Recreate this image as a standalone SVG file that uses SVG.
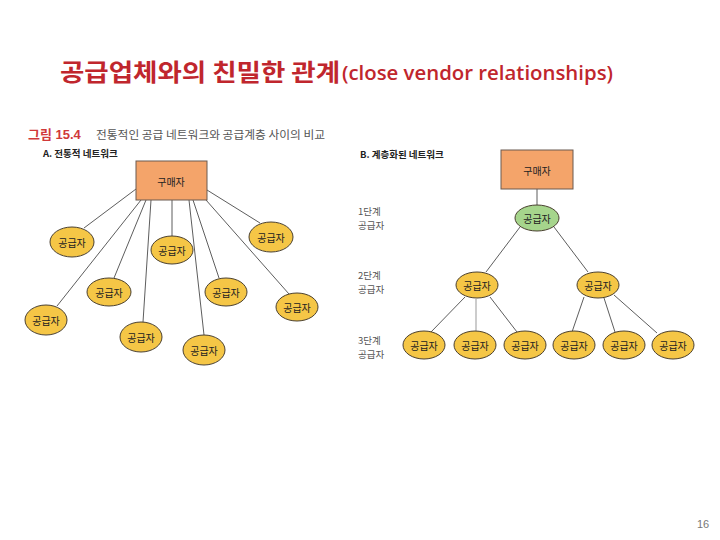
<svg xmlns="http://www.w3.org/2000/svg" width="720" height="540" viewBox="0 0 720 540">
<style>
.title{font-family:"Noto Sans CJK KR","Noto Sans",sans-serif;font-weight:bold;fill:#c0262d}
.en{font-family:"Open Sans","Liberation Sans",sans-serif;font-weight:600;fill:#c0262d}
.cap{font-family:"Noto Sans CJK KR",sans-serif;fill:#555;font-size:11px}
.capn{font-family:"Liberation Sans","Noto Sans CJK KR",sans-serif;fill:#d0393a;font-size:13px;font-weight:bold}
.sub{font-family:"Noto Sans CJK KR",sans-serif;fill:#222;font-size:9.5px;font-weight:bold}
.tier{font-family:"Noto Sans CJK KR",sans-serif;fill:#555;font-size:9.5px}
.lbl{font-family:"Noto Sans CJK KR",sans-serif;fill:#222;font-size:10px;text-anchor:middle;dominant-baseline:central}
.buyer{fill:#f4a46a;stroke:#6b5a50;stroke-width:1}
.sup{fill:#f5c646;stroke:#4a4030;stroke-width:1}
.sup1{fill:#a6d58c;stroke:#4a4030;stroke-width:1}
.ln{stroke:#333;stroke-width:0.8;fill:none}
.ln2{stroke:#aaa;stroke-width:1.2;fill:none}
.pg{font-family:"Liberation Sans",sans-serif;fill:#777;font-size:11px}
</style>
<rect width="720" height="540" fill="#fff"/>
<text class="title" x="60" y="81" font-size="24" textLength="280" lengthAdjust="spacingAndGlyphs">공급업체와의 친밀한 관계</text>
<text class="en" x="342" y="80" font-size="20" textLength="271" lengthAdjust="spacingAndGlyphs">(close vendor relationships)</text>
<text class="capn" x="28" y="139">그림 15.4</text>
<text class="cap" x="96" y="139" textLength="229" lengthAdjust="spacingAndGlyphs">전통적인 공급 네트워크와 공급계층 사이의 비교</text>
<text class="sub" x="43" y="157">A. 전통적 네트워크</text>
<text class="sub" x="360" y="158">B. 계층화된 네트워크</text>
<g id="tiers">
<text class="tier" x="358" y="215">1단계</text>
<text class="tier" x="358" y="229">공급자</text>
<text class="tier" x="358" y="279">2단계</text>
<text class="tier" x="358" y="293">공급자</text>
<text class="tier" x="358" y="344">3단계</text>
<text class="tier" x="358" y="358">공급자</text>
</g>
<g id="connectors">
<line class="ln" x1="136" y1="189" x2="84" y2="228"/>
<line class="ln" x1="141" y1="200" x2="57" y2="306"/>
<line class="ln" x1="146" y1="200" x2="114" y2="278"/>
<line class="ln" x1="151" y1="200" x2="143" y2="322"/>
<line class="ln" x1="172" y1="200" x2="172" y2="236"/>
<line class="ln" x1="189" y1="200" x2="204" y2="335"/>
<line class="ln" x1="193" y1="200" x2="219" y2="278"/>
<line class="ln" x1="206" y1="200" x2="289" y2="294"/>
<line class="ln" x1="207" y1="190" x2="260" y2="223"/>
<line class="ln" x1="537" y1="189" x2="537" y2="205"/>
<line class="ln" x1="520" y1="227" x2="486" y2="272"/>
<line class="ln" x1="554" y1="227" x2="588" y2="272"/>
<line class="ln" x1="465" y1="297" x2="431" y2="332"/>
<line class="ln2" x1="476" y1="299" x2="476" y2="331"/>
<line class="ln" x1="490" y1="297" x2="517" y2="332"/>
<line class="ln" x1="584" y1="297" x2="572" y2="332"/>
<line class="ln" x1="604" y1="298" x2="615" y2="332"/>
<line class="ln" x1="614" y1="295" x2="657" y2="333"/>
</g>
<g id="buyerA"><rect class="buyer" x="136" y="161" width="71" height="39"/><text class="lbl" x="171" y="181">구매자</text></g>
<g id="a1"><ellipse class="sup" cx="72" cy="242" rx="22" ry="15"/><text class="lbl" x="72" y="242">공급자</text></g>
<g id="a2"><ellipse class="sup" cx="172" cy="250" rx="21" ry="14"/><text class="lbl" x="172" y="250">공급자</text></g>
<g id="a3"><ellipse class="sup" cx="271" cy="237" rx="22" ry="15"/><text class="lbl" x="271" y="237">공급자</text></g>
<g id="a4"><ellipse class="sup" cx="109" cy="292" rx="22" ry="14"/><text class="lbl" x="109" y="292">공급자</text></g>
<g id="a5"><ellipse class="sup" cx="226" cy="292" rx="21" ry="14"/><text class="lbl" x="226" y="292">공급자</text></g>
<g id="a6"><ellipse class="sup" cx="297" cy="307" rx="21" ry="14"/><text class="lbl" x="297" y="307">공급자</text></g>
<g id="a7"><ellipse class="sup" cx="46" cy="320" rx="21" ry="15"/><text class="lbl" x="46" y="320">공급자</text></g>
<g id="a8"><ellipse class="sup" cx="141" cy="337" rx="21" ry="15"/><text class="lbl" x="141" y="337">공급자</text></g>
<g id="a9"><ellipse class="sup" cx="204" cy="350" rx="21" ry="15"/><text class="lbl" x="204" y="350">공급자</text></g>
<g id="buyerB"><rect class="buyer" x="501" y="150" width="72" height="39"/><text class="lbl" x="537" y="170">구매자</text></g>
<g id="b1"><ellipse class="sup1" cx="537" cy="218" rx="22" ry="13"/><text class="lbl" x="537" y="218">공급자</text></g>
<g id="b2l"><ellipse class="sup" cx="477" cy="285" rx="21" ry="13"/><text class="lbl" x="477" y="285">공급자</text></g>
<g id="b2r"><ellipse class="sup" cx="598" cy="285" rx="21" ry="13"/><text class="lbl" x="598" y="285">공급자</text></g>
<g id="b31"><ellipse class="sup" cx="424" cy="345" rx="21" ry="14"/><text class="lbl" x="424" y="345">공급자</text></g>
<g id="b32"><ellipse class="sup" cx="475" cy="345" rx="21" ry="14"/><text class="lbl" x="475" y="345">공급자</text></g>
<g id="b33"><ellipse class="sup" cx="525" cy="345" rx="21" ry="14"/><text class="lbl" x="525" y="345">공급자</text></g>
<g id="b34"><ellipse class="sup" cx="574" cy="345" rx="21" ry="14"/><text class="lbl" x="574" y="345">공급자</text></g>
<g id="b35"><ellipse class="sup" cx="624" cy="345" rx="21" ry="14"/><text class="lbl" x="624" y="345">공급자</text></g>
<g id="b36"><ellipse class="sup" cx="673" cy="345" rx="21" ry="14"/><text class="lbl" x="673" y="345">공급자</text></g>
<text class="pg" x="697" y="528">16</text>
</svg>
